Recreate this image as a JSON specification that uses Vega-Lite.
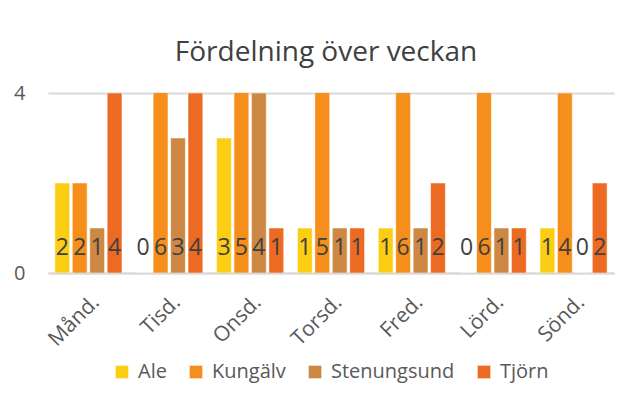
{
  "$schema": "https://vega.github.io/schema/vega-lite/v6.json",
  "width": 566,
  "height": 180,
  "autosize": {"type": "none"},
  "padding": {"left": 48, "top": 93, "right": 28, "bottom": 131},
  "background": "white",
  "title": {
    "text": "Fördelning över veckan",
    "font": "Open Sans",
    "fontSize": 28,
    "fontWeight": "normal",
    "color": "#404040",
    "anchor": "middle",
    "offset": 16,
    "dx": -5
  },
  "config": {
    "view": {"stroke": null},
    "font": "Open Sans"
  },
  "data": {
    "values": [
      {"dag": "Månd.", "kommun": "Ale", "antal": 2},
      {"dag": "Månd.", "kommun": "Kungälv", "antal": 2},
      {"dag": "Månd.", "kommun": "Stenungsund", "antal": 1},
      {"dag": "Månd.", "kommun": "Tjörn", "antal": 4},
      {"dag": "Tisd.", "kommun": "Ale", "antal": 0},
      {"dag": "Tisd.", "kommun": "Kungälv", "antal": 6},
      {"dag": "Tisd.", "kommun": "Stenungsund", "antal": 3},
      {"dag": "Tisd.", "kommun": "Tjörn", "antal": 4},
      {"dag": "Onsd.", "kommun": "Ale", "antal": 3},
      {"dag": "Onsd.", "kommun": "Kungälv", "antal": 5},
      {"dag": "Onsd.", "kommun": "Stenungsund", "antal": 4},
      {"dag": "Onsd.", "kommun": "Tjörn", "antal": 1},
      {"dag": "Torsd.", "kommun": "Ale", "antal": 1},
      {"dag": "Torsd.", "kommun": "Kungälv", "antal": 5},
      {"dag": "Torsd.", "kommun": "Stenungsund", "antal": 1},
      {"dag": "Torsd.", "kommun": "Tjörn", "antal": 1},
      {"dag": "Fred.", "kommun": "Ale", "antal": 1},
      {"dag": "Fred.", "kommun": "Kungälv", "antal": 6},
      {"dag": "Fred.", "kommun": "Stenungsund", "antal": 1},
      {"dag": "Fred.", "kommun": "Tjörn", "antal": 2},
      {"dag": "Lörd.", "kommun": "Ale", "antal": 0},
      {"dag": "Lörd.", "kommun": "Kungälv", "antal": 6},
      {"dag": "Lörd.", "kommun": "Stenungsund", "antal": 1},
      {"dag": "Lörd.", "kommun": "Tjörn", "antal": 1},
      {"dag": "Sönd.", "kommun": "Ale", "antal": 1},
      {"dag": "Sönd.", "kommun": "Kungälv", "antal": 4},
      {"dag": "Sönd.", "kommun": "Stenungsund", "antal": 0},
      {"dag": "Sönd.", "kommun": "Tjörn", "antal": 2}
    ]
  },
  "encoding": {
    "x": {
      "field": "dag",
      "type": "nominal",
      "sort": ["Månd.", "Tisd.", "Onsd.", "Torsd.", "Fred.", "Lörd.", "Sönd."],
      "scale": {"paddingInner": 0.17, "paddingOuter": 0.085},
      "axis": {
        "title": null,
        "labelAngle": -45,
        "labelFontSize": 21,
        "labelColor": "#595959",
        "labelPadding": 18,
        "labelOverlap": false,
        "ticks": false,
        "domain": true,
        "domainColor": "#d9d9d9",
        "domainWidth": 2,
        "grid": false
      }
    },
    "xOffset": {
      "field": "kommun",
      "type": "nominal",
      "scale": {"paddingInner": 0.15}
    }
  },
  "layer": [
    {
      "mark": {"type": "bar", "clip": true, "stroke": "white", "strokeOpacity": 0.5, "strokeWidth": 1},
      "encoding": {
        "y": {
          "field": "antal",
          "type": "quantitative",
          "scale": {"domain": [0, 4], "nice": false},
          "axis": {
            "title": null,
            "values": [0, 4],
            "labelFontSize": 20,
            "labelColor": "#595959",
            "labelPadding": 23,
            "ticks": false,
            "domain": false,
            "grid": true,
            "gridColor": "#d9d9d9",
            "gridWidth": 2
          }
        },
        "color": {
          "field": "kommun",
          "type": "nominal",
          "scale": {
            "domain": ["Ale", "Kungälv", "Stenungsund", "Tjörn"],
            "range": ["#FBCE14", "#F58E1A", "#CD8944", "#EC6A22"]
          },
          "legend": {
            "title": null,
            "orient": "none",
            "direction": "horizontal",
            "legendX": 64,
            "legendY": 269,
            "symbolType": "square",
            "symbolSize": 160,
            "symbolStrokeWidth": 0,
            "labelFontSize": 20,
            "labelColor": "#595959",
            "labelOffset": 6,
            "columnPadding": 19
          }
        }
      }
    },
    {
      "mark": {"type": "text", "fontSize": 23, "color": "#404040", "dy": -25, "baseline": "middle"},
      "encoding": {
        "y": {"datum": 0, "type": "quantitative"},
        "text": {"field": "antal", "type": "quantitative"}
      }
    }
  ]
}
